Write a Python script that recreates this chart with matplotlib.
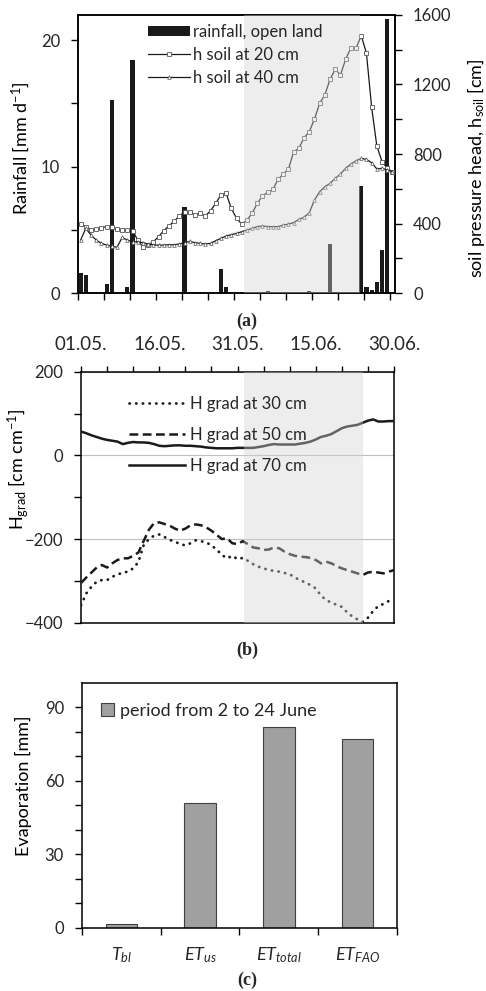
import numpy as np
import matplotlib
matplotlib.use("Agg")
import matplotlib.pyplot as plt
from matplotlib.patches import Patch

plt.rcParams['font.family'] = ['Lato', 'DejaVu Sans']
plt.rcParams['mathtext.fontset'] = 'custom'
plt.rcParams['mathtext.rm'] = 'Lato'
plt.rcParams['mathtext.it'] = 'Lato:italic'
plt.rcParams['font.size'] = 12
text_col = '#262626'
plt.rcParams['text.color'] = text_col
plt.rcParams['xtick.color'] = 'black'
plt.rcParams['ytick.color'] = 'black'
plt.rcParams['xtick.labelcolor'] = text_col
plt.rcParams['ytick.labelcolor'] = text_col

# day index 0 = 01.05., 60 = 30.06.
days = np.arange(61)

# rainfall, open land [mm/d]
rain = [1.6, 1.4, 0.1, 0, 0, 0.7, 15.3, 0, 0, 0.5,
        18.4, 0, 0, 0, 0, 0, 0, 0, 0, 0,
        6.8, 0, 0, 0, 0, 0, 0, 1.9, 0.5, 0,
        0, 0, 0, 0, 0, 0, 0.15, 0, 0, 0,
        0, 0, 0, 0, 0.15, 0, 0, 0, 3.9, 0.05,
        0, 0, 0, 0, 8.5, 0.5, 0.25, 0.85, 3.4, 21.7,
        0]

# soil pressure head [cm]
h20 = [397, 382, 365, 366, 376, 382, 378, 366, 360, 360,
       359, 305, 266, 276, 295, 324, 359, 386, 414, 443,
       468, 466, 449, 459, 443, 474, 516, 564, 574, 487,
       430, 397, 420, 459, 516, 560, 579, 597, 654, 685,
       714, 813, 833, 894, 928, 1001, 1092, 1140, 1230, 1287,
       1255, 1345, 1410, 1410, 1481, 1380, 1069, 846, 756, 718,
       698]
h40 = [305, 372, 334, 305, 286, 276, 270, 263, 320, 305,
       295, 295, 290, 282, 276, 276, 276, 278, 278, 282,
       290, 297, 290, 286, 282, 286, 301, 315, 328, 336,
       343, 353, 363, 372, 382, 386, 382, 382, 382, 391,
       397, 405, 424, 436, 462, 535, 583, 612, 631, 660,
       685, 718, 742, 761, 775, 769, 750, 714, 718, 708,
       698]

# hydraulic gradient [cm/cm]
hg30 = [-358, -330, -314, -302, -298, -298, -290, -285, -280, -278,
        -270, -255, -215, -200, -192, -189, -195, -202, -206, -212,
        -215, -210, -203, -205, -208, -215, -225, -238, -246, -240,
        -248, -245, -252, -260, -266, -270, -274, -276, -278, -281,
        -284, -292, -298, -304, -310, -318, -335, -346, -352, -357,
        -362, -375, -385, -392, -398, -388, -372, -360, -355, -348,
        -342]
hg50 = [-305, -292, -280, -268, -262, -268, -258, -250, -246, -246,
        -240, -232, -205, -178, -162, -160, -164, -168, -175, -180,
        -175, -167, -165, -167, -172, -180, -190, -200, -198, -210,
        -212, -205, -212, -220, -222, -226, -225, -220, -222, -230,
        -236, -240, -242, -243, -245, -250, -258, -254, -258, -265,
        -270, -274, -278, -282, -286, -280, -278, -280, -282, -278,
        -274]
hg70 = [57, 53, 48, 44, 40, 37, 35, 33, 27, 30,
        32, 31, 31, 30, 27, 23, 22, 23, 24, 24,
        23, 23, 22, 21, 19, 18, 17, 17, 17, 17,
        18, 18, 18, 18, 20, 22, 25, 27, 26, 26,
        26, 26, 28, 30, 33, 38, 44, 47, 51, 58,
        65, 69, 71, 73, 78, 83, 86, 81, 81, 82,
        82]
date_labels = ['01.05.', '16.05.', '31.05.', '15.06.', '30.06.']

# evaporation, period from 2 to 24 June [mm]
evap_names = [r'$T_{bl}$', r'$ET_{us}$', r'$ET_{total}$', r'$ET_{FAO}$']
evap = [1.5, 51, 82, 77.2]

shade_col = '#d2d2d2'
shade_alpha = 0.4
lab_size = 13


def style_spines(ax):
    for s in ax.spines.values():
        s.set_linewidth(1.1)
        s.set_color('black')


fig = plt.figure(figsize=(4.86, 9.91), dpi=100)

# ---------------- (a) rainfall + pressure head
ax1 = fig.add_axes([0.1605, 0.7043, 0.6523, 0.2806])
ax1.bar(days, rain, width=0.8, color='#1a1a1a', zorder=2)
ax1.set_xlim(-0.5, 60.5)
ax1.set_ylim(0, 22)
ax1.set_xticks(np.arange(-0.5, 61, 5))
ax1.set_xticklabels([])
ax1.set_yticks([0, 10, 20])
ax1.set_yticks([5, 15], minor=True)
ax1.tick_params(axis='x', length=5, width=1)
ax1.tick_params(axis='y', which='both', length=5, width=1, pad=8)
ax1.set_ylabel(r'Rainfall [mm d$^{-1}$]', fontsize=lab_size)
ax1.yaxis.set_label_coords(-0.145, 0.52)

ax1b = ax1.twinx()
l20, = ax1b.plot(days, h20, '-', color='#1a1a1a', lw=0.9, marker='s', ms=3.3,
                 mfc='white', mec='#555555', mew=0.6, zorder=3)
l40, = ax1b.plot(days, h40, '-', color='#1a1a1a', lw=0.9, marker='^', ms=2.6,
                 mfc='white', mec='#555555', mew=0.5, zorder=3)
ax1b.axvspan(31.4, 53.8, color=shade_col, alpha=shade_alpha, lw=0, zorder=4)
ax1b.set_ylim(0, 1600)
ax1b.set_yticks(np.arange(0, 1601, 400))
ax1b.set_yticks(np.arange(200, 1600, 400), minor=True)
ax1b.tick_params(axis='y', which='both', length=5, width=1, pad=8)
ax1b.set_ylabel(r'soil pressure head, h$_{\rm soil}$ [cm]', fontsize=lab_size)
ax1b.yaxis.set_label_coords(1.222, 0.45)
leg1 = ax1b.legend([Patch(facecolor='#1a1a1a'), l20, l40],
                   ['rainfall, open land', 'h soil at 20 cm', 'h soil at 40 cm'],
                   loc='upper left', bbox_to_anchor=(0.185, 1.01), frameon=False,
                   handlelength=2.5, handleheight=0.55, handletextpad=0.2,
                   labelspacing=0.42, borderaxespad=0.3, fontsize=12)
leg1.set_zorder(6)
style_spines(ax1)
style_spines(ax1b)

# ---------------- (b) hydraulic gradient
ax2 = fig.add_axes([0.1667, 0.3716, 0.6440, 0.2533])
ax2.plot(days, hg30, color='#1a1a1a', lw=2.0, ls=(0, (0.1, 2.3)),
         dash_capstyle='round', label='H grad at 30 cm', zorder=3)
ax2.plot(days, hg50, color='#1a1a1a', lw=1.8, ls=(0, (3.5, 1.8)),
         label='H grad at 50 cm', zorder=3)
ax2.plot(days, hg70, color='#1a1a1a', lw=1.8, ls='-',
         label='H grad at 70 cm', zorder=3)
ax2.axvspan(31.2, 54.05, color=shade_col, alpha=shade_alpha, lw=0, zorder=4)
ax2.set_xlim(0, 60)
ax2.set_ylim(-400, 200)
ax2.xaxis.tick_top()
ax2.set_xticks([0, 15, 30, 45, 60])
ax2.set_xticklabels(date_labels, fontsize=13.5)
ax2.set_xticks([5, 10, 20, 25, 35, 40, 50, 55], minor=True)
ax2.tick_params(axis='x', which='both', length=4.5, width=1, pad=9)
ax2.set_yticks([-400, -200, 0, 200])
ax2.set_yticks([-300, -100, 100], minor=True)
ax2.tick_params(axis='y', which='both', length=5, width=1, pad=8)
ax2.yaxis.grid(True, color='#bfbfbf', lw=0.8)
ax2.set_axisbelow(True)
ax2.set_ylabel(r'H$_{\rm grad}$ [cm cm$^{-1}$]', fontsize=lab_size)
ax2.yaxis.set_label_coords(-0.16, 0.61)
leg2 = ax2.legend(loc='upper left', bbox_to_anchor=(0.115, 0.95), frameon=False,
                  handlelength=3.4, handletextpad=0.3, labelspacing=0.9,
                  borderaxespad=0.3, fontsize=12)
leg2.set_zorder(6)
style_spines(ax2)

# ---------------- (c) evaporation
ax3 = fig.add_axes([0.1687, 0.0639, 0.6481, 0.2469])
xpos = np.arange(len(evap))
ax3.bar(xpos, evap, width=0.4, color='#a0a0a0', edgecolor='#404040', lw=0.8,
        label='period from 2 to 24 June', zorder=2)
ax3.set_xlim(-0.5, 3.5)
ax3.set_ylim(0, 100)
ax3.set_xticks(xpos)
ax3.set_xticklabels(evap_names, fontsize=13)
ax3.set_xticks(np.arange(-0.5, 3.6, 1), minor=True)
ax3.tick_params(axis='x', which='major', length=0, pad=13)
ax3.tick_params(axis='x', which='minor', length=5, width=1)
ax3.set_yticks([0, 30, 60, 90])
ax3.set_yticks([10, 20, 40, 50, 70, 80], minor=True)
ax3.tick_params(axis='y', which='both', length=5, width=1, pad=8)
ax3.set_ylabel('Evaporation [mm]', fontsize=lab_size)
ax3.yaxis.set_label_coords(-0.16, 0.58)
ax3.legend(loc='upper left', bbox_to_anchor=(0.02, 0.97), frameon=False,
           handlelength=0.75, handleheight=0.75, handletextpad=0.3,
           borderaxespad=0.3, fontsize=13)
style_spines(ax3)

for x, y, s in [(0.508, 0.676, '(a)'), (0.508, 0.344, '(b)'), (0.508, 0.011, '(c)')]:
    fig.text(x, y, s, ha='center', va='center', family='Liberation Serif',
             fontsize=13, weight='bold', color=text_col)

fig.savefig('out.png', dpi=100)
